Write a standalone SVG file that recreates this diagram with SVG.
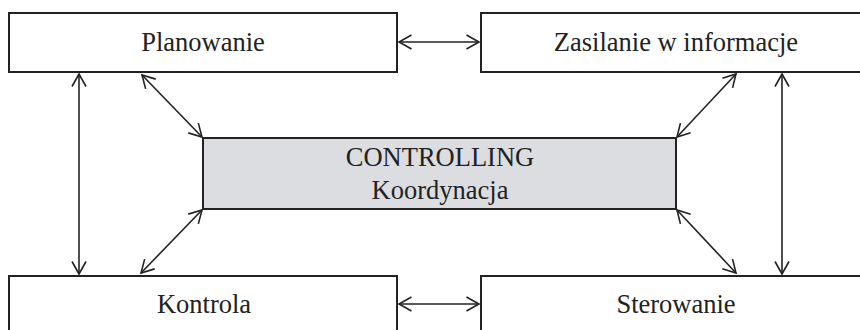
<svg xmlns="http://www.w3.org/2000/svg" width="860" height="330" viewBox="0 0 860 330">
<style>
.box{fill:#fff;stroke:#222;stroke-width:2}
.core{fill:#dcdde0;stroke:#222;stroke-width:2}
.lbl{font-family:"Liberation Serif","Times New Roman",serif;font-size:26.5px;fill:#222;text-anchor:middle}
.con{stroke:#222;stroke-width:1.6;fill:none;marker-start:url(#ah);marker-end:url(#ah)}
</style>
<defs>
<marker id="ah" viewBox="0 0 16 16" refX="14" refY="8" markerWidth="16" markerHeight="16" markerUnits="userSpaceOnUse" orient="auto-start-reverse">
<path d="M1.5,1 L14,8 L1.5,15" fill="none" stroke="#222" stroke-width="1.6"/>
</marker>
</defs>
<rect width="860" height="330" fill="#fff"/>
<g id="planowanie"><rect class="box" x="9" y="13" width="388" height="59"/><text class="lbl" x="203" y="51">Planowanie</text></g>
<g id="zasilanie"><rect class="box" x="481" y="13" width="390" height="59"/><text class="lbl" x="676" y="51">Zasilanie w informacje</text></g>
<g id="kontrola"><rect class="box" x="9" y="276" width="388" height="70"/><text class="lbl" x="204" y="313">Kontrola</text></g>
<g id="sterowanie"><rect class="box" x="481" y="276" width="390" height="70"/><text class="lbl" x="676" y="313">Sterowanie</text></g>
<g id="controlling"><rect class="core" x="203" y="138" width="473" height="71"/><text class="lbl" x="440" y="166">CONTROLLING</text><text class="lbl" x="440" y="199">Koordynacja</text></g>
<g id="connectors">
<line class="con" x1="399" y1="42" x2="479" y2="42"/>
<line class="con" x1="399" y1="304" x2="479" y2="304"/>
<line class="con" x1="79" y1="74" x2="79" y2="274"/>
<line class="con" x1="782" y1="74" x2="782" y2="274"/>
<line class="con" x1="142" y1="75" x2="202" y2="137"/>
<line class="con" x1="202" y1="210" x2="141" y2="273"/>
<line class="con" x1="677" y1="137" x2="736" y2="74"/>
<line class="con" x1="677" y1="210" x2="736" y2="273"/>
</g>
</svg>
